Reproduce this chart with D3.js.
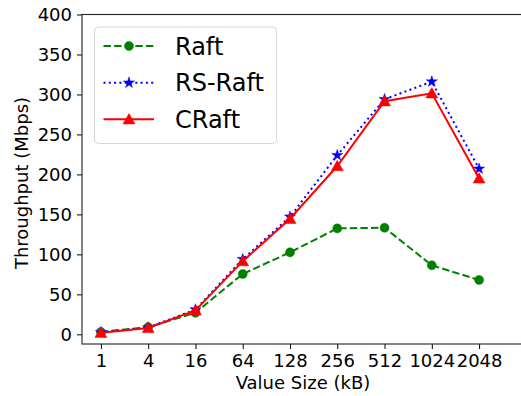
<!DOCTYPE html>
<html><head><meta charset="utf-8">
<script src="https://cdn.jsdelivr.net/npm/d3@7"></script>
<style>
html,body{margin:0;padding:0;background:#fff;}
svg{display:block;}
text{font-family:"DejaVu Sans",sans-serif;fill:#000;}
</style></head>
<body><svg id="c" width="521" height="396"></svg>
<script>
const categories = ["1","4","16","64","128","256","512","1024","2048"];
const raft   = [3, 9, 27, 75.5, 102.5, 132.5, 133.3, 86.3, 68];
const rsRaft = [2.5, 8.5, 31, 94, 147, 224, 294, 316, 207];
const cRaft  = [2, 8, 30, 91.5, 144.5, 210.5, 291.5, 301.5, 195];
const yTicks = [0, 50, 100, 150, 200, 250, 300, 350, 400];
const seriesNames = ["Raft", "RS-Raft", "CRaft"];

const svg = d3.select("#c");
const L = 82, R = 524, T = 14.5, B = 344;
const x = d3.scaleLinear().domain([-0.4, 8.95]).range([L, R]);
const y = d3.scaleLinear().domain([-12.1, 400]).range([B, T]);

// axes
const xAxis = d3.axisBottom(x).tickValues(d3.range(categories.length))
  .tickFormat(i => categories[i]).tickSize(5).tickPadding(5);
const yAxis = d3.axisLeft(y).tickValues(yTicks).tickSize(5).tickPadding(5);

const gx = svg.append("g").attr("transform", `translate(0,${B})`).call(xAxis);
const gy = svg.append("g").attr("transform", `translate(${L},0)`).call(yAxis);
[gx, gy].forEach(g => {
  g.select(".domain").remove();
  g.selectAll(".tick line").attr("stroke", "#000").attr("stroke-width", 1);
  g.selectAll("text").attr("font-size", "18px").attr("fill", "#000")
    .style("font-family", "DejaVu Sans, sans-serif");
});
gx.selectAll("text").attr("dy", "0.71em");

// frame
svg.append("rect").attr("x", L).attr("y", T).attr("width", R - L).attr("height", B - T)
  .attr("fill", "none").attr("stroke", "#222").attr("stroke-width", 1.1);

// axis labels
svg.append("text").attr("x", 303).attr("y", 389).attr("text-anchor", "middle")
  .attr("font-size", "18px").text("Value Size (kB)");
svg.append("text").attr("transform", `translate(28,183) rotate(-90)`)
  .attr("text-anchor", "middle").attr("font-size", "18px").text("Throughput (Mbps)");

const styles = [
  {data: raft, color: "#008000", dash: "7.4,3.2", marker: "circle"},
  {data: rsRaft, color: "#0000ff", dash: "2,3.3", marker: "star"},
  {data: cRaft, color: "#ff0000", dash: null, marker: "triangle"}
];
const symbolOf = m => m === "circle" ? d3.symbolCircle : m === "star" ? d3.symbolStar : d3.symbolTriangle;
const sizeOf = m => m === "circle" ? 64 : m === "star" ? 38 : 62;

const line = d3.line().x((d, i) => x(i)).y(d => y(d));
const plot = svg.append("g");
styles.forEach(s => {
  plot.append("path").datum(s.data).attr("d", line).attr("fill", "none")
    .attr("stroke", s.color).attr("stroke-width", 2)
    .attr("stroke-dasharray", s.dash);
  plot.selectAll(null).data(s.data).enter().append("path")
    .attr("transform", (d, i) => `translate(${x(i)},${y(d) + (s.marker === "triangle" ? 1.2 : 0)})`)
    .attr("d", d3.symbol().type(symbolOf(s.marker)).size(sizeOf(s.marker)))
    .attr("fill", s.color).attr("stroke", s.color).attr("stroke-width", 0.5);
});

// legend
const lg = svg.append("g");
lg.append("rect").attr("x", 94.5).attr("y", 27).attr("width", 182).attr("height", 116.5)
  .attr("rx", 4).attr("fill", "#fff").attr("fill-opacity", 0.8)
  .attr("stroke", "#d6d6d6").attr("stroke-width", 1);
const rowsY = [46, 82.7, 119.3];
styles.forEach((s, i) => {
  const yy = rowsY[i];
  lg.append("line").attr("x1", 103.5).attr("x2", 154).attr("y1", yy).attr("y2", yy)
    .attr("stroke", s.color).attr("stroke-width", 2).attr("stroke-dasharray", s.dash);
  lg.append("path").attr("transform", `translate(129,${yy + (s.marker === "triangle" ? 1.2 : 0)})`)
    .attr("d", d3.symbol().type(symbolOf(s.marker)).size(sizeOf(s.marker)))
    .attr("fill", s.color).attr("stroke", s.color).attr("stroke-width", 0.5);
  lg.append("text").attr("x", 175).attr("y", yy + 8.5).attr("font-size", "24px").text(seriesNames[i]);
});
</script></body></html>
